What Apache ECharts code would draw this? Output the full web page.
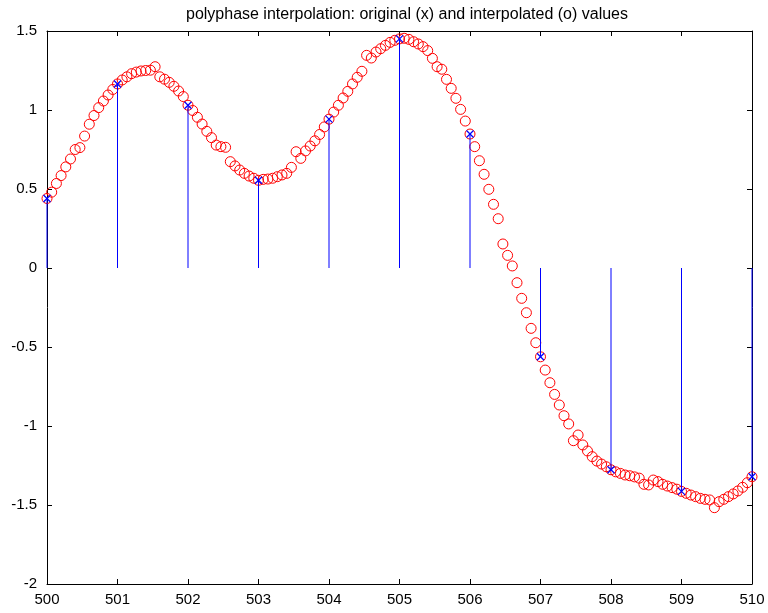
<!DOCTYPE html>
<html>
<head>
<meta charset="utf-8">
<script src="https://cdn.jsdelivr.net/npm/echarts@6/dist/echarts.min.js"></script>
<style>
html,body{margin:0;padding:0;background:#fff;}
#chart{width:768px;height:613px;}
</style>
</head>
<body>
<div id="chart"></div>
<script>
// interpolation factor (samples per original step)
const L = 15;
const xStart = 500;
const titleText = 'polyphase interpolation: original (x) and interpolated (o) values';
const xTicks = [500, 501, 502, 503, 504, 505, 506, 507, 508, 509, 510];
const yTicks = [-2, -1.5, -1, -0.5, 0, 0.5, 1, 1.5];

// original samples at 500..510
const originalX = [500, 501, 502, 503, 504, 505, 506, 507, 508, 509, 510];
const originalY = [0.44, 1.165, 1.03, 0.555, 0.942, 1.45, 0.848, -0.562, -1.277, -1.414, -1.321];

// interpolated samples, one array per original interval (k = 0..14)
const seg500 = [0.44, 0.48, 0.535, 0.585, 0.64, 0.69, 0.75, 0.762, 0.835, 0.91, 0.965, 1.015, 1.057, 1.095, 1.13];
const seg501 = [1.165, 1.19, 1.21, 1.23, 1.24, 1.247, 1.25, 1.252, 1.274, 1.21, 1.195, 1.175, 1.15, 1.12, 1.085];
const seg502 = [1.03, 0.997, 0.954, 0.911, 0.865, 0.825, 0.778, 0.768, 0.764, 0.673, 0.646, 0.62, 0.599, 0.582, 0.568];
const seg503 = [0.555, 0.561, 0.563, 0.568, 0.578, 0.589, 0.599, 0.637, 0.736, 0.694, 0.741, 0.772, 0.805, 0.845, 0.893];
const seg504 = [0.942, 0.987, 1.03, 1.076, 1.118, 1.165, 1.207, 1.245, 1.346, 1.329, 1.367, 1.388, 1.409, 1.428, 1.441];
const seg505 = [1.45, 1.454, 1.447, 1.432, 1.418, 1.401, 1.376, 1.327, 1.274, 1.258, 1.194, 1.137, 1.074, 1.004, 0.93];
const seg506 = [0.848, 0.768, 0.679, 0.593, 0.498, 0.403, 0.312, 0.152, 0.08, 0.013, -0.093, -0.192, -0.283, -0.382, -0.473];
const seg507 = [-0.562, -0.646, -0.726, -0.8, -0.867, -0.935, -0.987, -1.093, -1.057, -1.12, -1.158, -1.194, -1.222, -1.241, -1.258];
const seg508 = [-1.277, -1.29, -1.30, -1.31, -1.315, -1.322, -1.33, -1.369, -1.373, -1.342, -1.352, -1.369, -1.38, -1.39, -1.40];
const seg509 = [-1.414, -1.426, -1.437, -1.447, -1.458, -1.464, -1.468, -1.517, -1.479, -1.464, -1.447, -1.43, -1.411, -1.388, -1.359];
const segEnd = [-1.321];

const interpY = [].concat(seg500, seg501, seg502, seg503, seg504, seg505, seg506, seg507, seg508, seg509, segEnd);
const interpData = interpY.map((v, i) => [xStart + i / L, v]);
const origData = originalX.map((x, i) => [x, originalY[i]]);

const FONT = 'Liberation Sans, Arial, Helvetica, sans-serif';
function axisBase() {
  return {
    type: 'value',
    axisLine: { show: true, onZero: false, lineStyle: { color: '#000', width: 1 } },
    axisTick: { show: true, inside: true, length: 5, lineStyle: { color: '#000', width: 1 } },
    splitLine: { show: false },
    minorTick: { show: false }
  };
}

const chart = echarts.init(document.getElementById('chart'), null, { renderer: 'canvas' });
chart.setOption({
  backgroundColor: '#ffffff',
  animation: false,
  title: {
    text: titleText,
    left: 402, top: 2, textAlign: 'center',
    textStyle: { fontFamily: FONT, fontSize: 16, fontWeight: 'normal', color: '#000' }
  },
  grid: { left: 47, right: 16, top: 31, bottom: 29, containLabel: false },
  xAxis: [
    Object.assign(axisBase(), {
      position: 'bottom', min: 500, max: 510, interval: 1,
      axisLabel: { show: true, margin: 8, fontFamily: FONT, fontSize: 15, color: '#000' }
    }),
    Object.assign(axisBase(), {
      position: 'top', min: 500, max: 510, interval: 1,
      axisLabel: { show: false }
    })
  ],
  yAxis: [
    Object.assign(axisBase(), {
      position: 'left', min: -2, max: 1.5, interval: 0.5,
      axisLabel: { show: true, margin: 10, fontFamily: FONT, fontSize: 15, color: '#000' }
    }),
    Object.assign(axisBase(), {
      position: 'right', min: -2, max: 1.5, interval: 0.5,
      axisLabel: { show: false }
    })
  ],
  series: [
    {
      type: 'scatter',
      xAxisIndex: 0, yAxisIndex: 0,
      data: interpData,
      symbol: 'circle',
      symbolSize: 10,
      itemStyle: { color: 'rgba(255,255,255,0)', borderColor: '#ff0000', borderWidth: 1, opacity: 1 },
      emphasis: { disabled: true },
      clip: false,
      z: 2
    },
    {
      type: 'custom',
      xAxisIndex: 0, yAxisIndex: 0,
      data: origData,
      clip: false,
      z: 3,
      renderItem: function (params, api) {
        const base = api.coord([api.value(0), 0]);
        const top = api.coord([api.value(0), api.value(1)]);
        const s = 3.5;
        return {
          type: 'group',
          children: [
            { type: 'line', shape: { x1: base[0], y1: base[1], x2: top[0], y2: top[1] },
              style: { stroke: '#0000ff', lineWidth: 1, fill: null } },
            { type: 'line', shape: { x1: top[0] - s, y1: top[1] - s, x2: top[0] + s, y2: top[1] + s },
              style: { stroke: '#0000ff', lineWidth: 1.3, fill: null } },
            { type: 'line', shape: { x1: top[0] - s, y1: top[1] + s, x2: top[0] + s, y2: top[1] - s },
              style: { stroke: '#0000ff', lineWidth: 1.3, fill: null } }
          ]
        };
      }
    }
  ]
});
</script>
</body>
</html>
